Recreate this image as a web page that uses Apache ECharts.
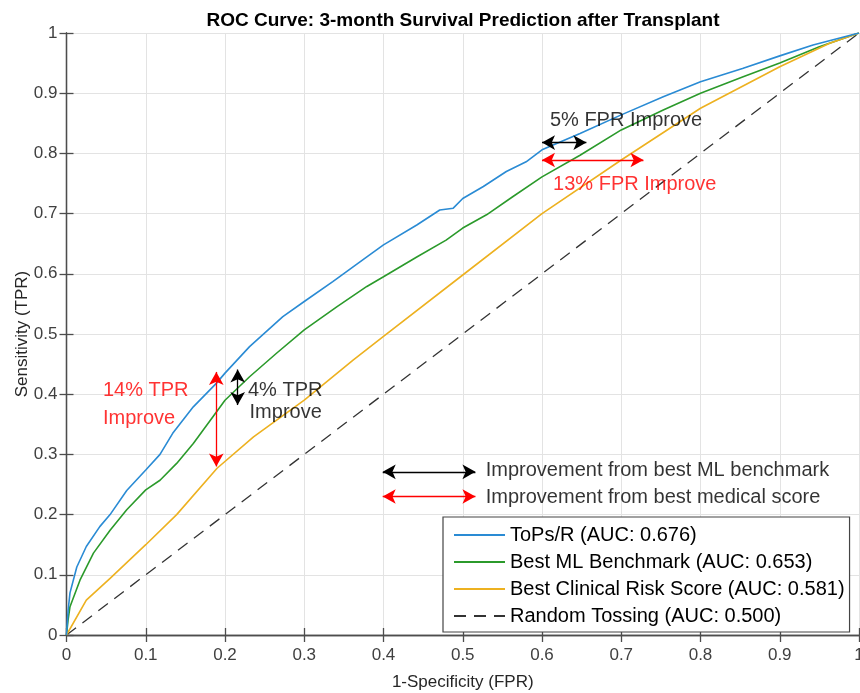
<!DOCTYPE html>
<html><head><meta charset="utf-8">
<script src="https://cdn.jsdelivr.net/npm/echarts@6/dist/echarts.min.js"></script>
<style>html,body{margin:0;padding:0;background:#fff}#c{width:860px;height:693px}</style>
</head><body><div id="c"></div>
<script>
// ---- data ----
const xTicks = [0,0.1,0.2,0.3,0.4,0.5,0.6,0.7,0.8,0.9,1];
const yTicks = [0,0.1,0.2,0.3,0.4,0.5,0.6,0.7,0.8,0.9,1];

const topsFpr = [0,0.002,0.0044,0.013,0.025,0.042,0.055,0.076,0.1,0.118,0.134,0.16,0.189,0.2,0.231,0.273,0.3,0.336,0.379,0.4,0.442,0.471,0.488,0.5,0.526,0.555,0.58,0.6,0.648,0.7,0.753,0.8,0.853,0.9,0.942,1];
const topsTpr = [0,0.04,0.07,0.113,0.147,0.18,0.2,0.24,0.274,0.3,0.335,0.379,0.418,0.435,0.479,0.529,0.554,0.587,0.628,0.648,0.681,0.706,0.709,0.725,0.745,0.77,0.786,0.806,0.833,0.864,0.894,0.919,0.941,0.962,0.98,1];

const mlFpr = [0,0.002,0.0044,0.017,0.034,0.055,0.076,0.1,0.118,0.139,0.16,0.185,0.2,0.231,0.265,0.3,0.341,0.379,0.4,0.442,0.479,0.5,0.53,0.563,0.6,0.648,0.7,0.753,0.8,0.853,0.9,0.95,1];
const mlTpr = [0,0.025,0.047,0.091,0.136,0.174,0.208,0.241,0.257,0.285,0.318,0.363,0.39,0.429,0.468,0.507,0.545,0.579,0.595,0.628,0.656,0.676,0.698,0.728,0.761,0.797,0.839,0.872,0.9,0.927,0.95,0.977,1];

const clinFpr = [0,0.025,0.055,0.1,0.139,0.19,0.236,0.3,0.362,0.4,0.5,0.6,0.7,0.8,0.9,0.963,1];
const clinTpr = [0,0.058,0.094,0.15,0.2,0.277,0.329,0.39,0.457,0.496,0.598,0.7,0.789,0.875,0.944,0.983,1];

const randFpr = [0,1];
const randTpr = [0,1];

const seriesNames = ['ToPs/R (AUC: 0.676)','Best ML Benchmark (AUC: 0.653)','Best Clinical Risk Score (AUC: 0.581)','Random Tossing (AUC: 0.500)'];

// arrows: [x1,y1,x2,y2]
const blackArrows = [[0.6,0.818,0.656,0.818],[0.216,0.441,0.216,0.382],[0.399,0.271,0.516,0.271]];
const redArrows = [[0.6,0.789,0.728,0.789],[0.189,0.437,0.189,0.28],[0.399,0.23,0.516,0.23]];
// texts: [x,y,text]
const blackTexts = [[0.61,0.855,'5% FPR Improve'],[0.229,0.407,'4% TPR'],[0.231,0.369,'Improve'],[0.529,0.273,'Improvement from best ML benchmark'],[0.529,0.229,'Improvement from best medical score']];
const redTexts = [[0.614,0.748,'13% FPR Improve'],[0.046,0.407,'14% TPR'],[0.046,0.36,'Improve']];

const FONT = 'Liberation Sans, Arial, Helvetica, sans-serif';
const zip = (a,b) => a.map((v,i)=>[v,b[i]]);

function arrowLines(list){
  return list.map(a=>[{coord:[a[0],a[1]]},{coord:[a[2],a[3]]}]);
}
function textSeries(list,color,arrows){
  return {
    type:'scatter', symbolSize:0, silent:true, z:5,
    data:list.map(t=>({value:[t[0],t[1]],name:t[2]})),
    label:{show:true,position:'right',distance:0,formatter:p=>p.name,color:color,fontSize:20,fontFamily:FONT},
    markLine:{
      silent:true, symbol:['arrow','arrow'], symbolSize:[11,13], animation:false,
      label:{show:false},
      lineStyle:{color:color,width:1.3,type:'solid'},
      data:arrowLines(arrows)
    }
  };
}

const axisLineStyle = {color:'#4d4d4d',width:1.3};
const chart = echarts.init(document.getElementById('c'));
chart.setOption({
  animation:false,
  backgroundColor:'#fff',
  title:{text:'ROC Curve: 3-month Survival Prediction after Transplant',left:458,textAlign:'center',top:6,
    textStyle:{fontFamily:FONT,fontSize:19,fontWeight:'bold',color:'#000'}},
  grid:{left:66.5,right:1,top:33,bottom:58,show:false,containLabel:false,outerBoundsMode:'none'},
  legend:{
    orient:'vertical', left:443, top:517, data:seriesNames,
    padding:[8,5,6,10], itemGap:7, itemWidth:51, itemHeight:14,
    itemStyle:{opacity:0},
    textStyle:{fontFamily:FONT,fontSize:20,color:'#000'},
    backgroundColor:'#fff', borderColor:'#444', borderWidth:1.2
  },
  xAxis:[{
    type:'value',min:0,max:1,interval:0.1,
    name:'1-Specificity (FPR)',nameLocation:'middle',nameGap:39,nameMoveOverlap:false,
    nameTextStyle:{fontFamily:FONT,fontSize:17,color:'#262626'},
    axisLine:{show:true,lineStyle:axisLineStyle},
    axisTick:{show:true,inside:true,length:7,lineStyle:axisLineStyle},
    axisLabel:{fontFamily:FONT,fontSize:17,color:'#404040',margin:12,formatter:v=>String(+v.toFixed(1))},
    splitLine:{show:true,lineStyle:{color:'#e3e3e3',width:1}}
  },{
    type:'value',min:0,max:1,interval:0.1,position:'top',
    axisLine:{show:true,lineStyle:axisLineStyle},
    axisTick:{show:true,inside:true,length:7,lineStyle:axisLineStyle},
    axisLabel:{show:false},splitLine:{show:false}
  }],
  yAxis:[{
    type:'value',min:0,max:1,interval:0.1,
    name:'Sensitivity (TPR)',nameLocation:'middle',nameGap:36,nameMoveOverlap:false,
    nameTextStyle:{fontFamily:FONT,fontSize:17,color:'#262626'},
    axisLine:{show:true,lineStyle:axisLineStyle},
    axisTick:{show:true,inside:true,length:7,lineStyle:axisLineStyle},
    axisLabel:{fontFamily:FONT,fontSize:17,color:'#404040',margin:9,formatter:v=>String(+v.toFixed(1))},
    splitLine:{show:true,lineStyle:{color:'#e3e3e3',width:1}}
  },{
    type:'value',min:0,max:1,interval:0.1,position:'right',
    axisLine:{show:true,lineStyle:axisLineStyle},
    axisTick:{show:true,inside:true,length:7,lineStyle:axisLineStyle},
    axisLabel:{show:false},splitLine:{show:false}
  }],
  series:[
    {name:seriesNames[0],type:'line',symbol:'none',data:zip(topsFpr,topsTpr),lineStyle:{color:'#2a8bd4',width:1.6},itemStyle:{color:'#2a8bd4'},z:4},
    {name:seriesNames[1],type:'line',symbol:'none',data:zip(mlFpr,mlTpr),lineStyle:{color:'#2b9a2b',width:1.6},itemStyle:{color:'#2b9a2b'},z:3},
    {name:seriesNames[2],type:'line',symbol:'none',data:zip(clinFpr,clinTpr),lineStyle:{color:'#EDB120',width:1.6},itemStyle:{color:'#EDB120'},z:3},
    {name:seriesNames[3],type:'line',symbol:'none',data:zip(randFpr,randTpr),lineStyle:{color:'#333333',width:1.3,type:[12,8]},itemStyle:{color:'#333333'},z:2},
    textSeries(blackTexts,'#000000',blackArrows),
    textSeries(redTexts,'#ff0000',redArrows)
  ]
});
</script></body></html>
